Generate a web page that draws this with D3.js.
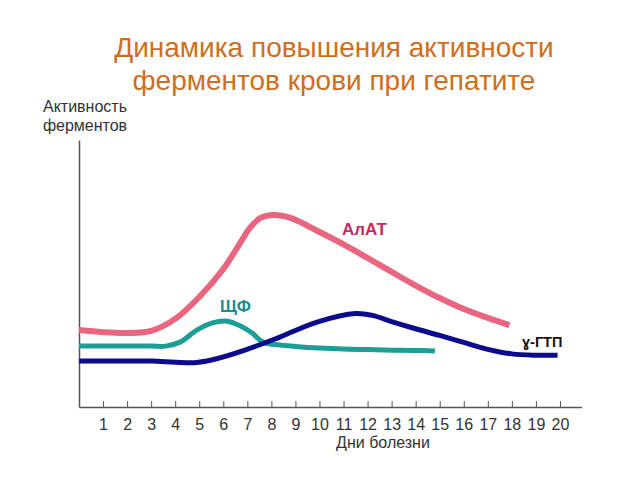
<!DOCTYPE html>
<html><head><meta charset="utf-8">
<script src="https://cdn.jsdelivr.net/npm/d3@7"></script>
<style>
body{margin:0;background:#fff;}
svg{display:block;font-family:"Liberation Sans",Arial,sans-serif;}
</style></head>
<body>
<svg id="chart" width="640" height="480"></svg>
<script>
const titleLines = ["Динамика повышения активности", "ферментов крови при гепатите"];
const yTitleLines = ["Активность", "ферментов"];
const xTitle = "Дни болезни";
const tickDays = [1,2,3,4,5,6,7,8,9,10,11,12,13,14,15,16,17,18,19,20];
const tickLabels = ["1","2","3","4","5","6","7","8","9","10","11","12","13","14","15","16","17","18","19","20"];

const seriesNames = ["АлАТ", "ЩФ", "ɣ-ГТП"];
const alatDays   = [0, 1, 2, 3, 4, 5, 6, 6.7, 7.1, 7.55, 8.1, 8.8, 9.9, 11, 12, 13, 14, 15, 16, 17, 17.9];
const alatValues = [28.8, 28, 27.7, 28.5, 33, 41.2, 51.7, 61.4, 67, 70.8, 71.9, 70.8, 66, 60.9, 55.8, 50.6, 45.5, 40.8, 36.7, 33.4, 30.7];
const shchfDays   = [0, 1, 2, 3, 3.6, 4.2, 4.9, 5.55, 6.1, 6.8, 7.2, 7.65, 8.35, 9, 10, 11, 12, 13, 14, 14.8];
const shchfValues = [22.8, 22.8, 22.8, 22.8, 22.8, 24.3, 28.8, 31.5, 32.2, 30, 27.7, 24.3, 23.2, 22.7, 22.1, 21.7, 21.5, 21.3, 21.2, 21];
const ggtpDays   = [0, 1, 2, 3, 4, 4.8, 5.6, 6.9, 8.35, 9.9, 11.5, 12.2, 13, 14, 15, 16, 17, 18, 19, 19.9];
const ggtpValues = [17.2, 17.2, 17.2, 17.2, 16.8, 16.6, 17.8, 21.3, 26.2, 31.8, 35, 34.3, 32, 29.3, 26.8, 24.2, 21.6, 19.9, 19.4, 19.4];

const svg = d3.select("#chart");
const x = d3.scaleLinear().domain([0, 20.9]).range([79, 581.6]);
const y = d3.scaleLinear().domain([0, 100]).range([407, 140]);

// title
svg.append("text").attr("text-anchor", "middle")
  .attr("font-size", 28).attr("fill", "#cf6e1e")
  .selectAll("tspan").data(titleLines).join("tspan")
  .attr("x", 334).attr("y", (d, i) => 57 + i * 32.5).text(d => d);

// y title
svg.append("text").attr("text-anchor", "middle").attr("font-size", 16).attr("fill", "#333")
  .selectAll("tspan").data(yTitleLines).join("tspan")
  .attr("x", 85).attr("y", (d, i) => 112 + i * 18.5).text(d => d);

// axes
const xAxis = d3.axisBottom(x).tickValues(tickDays).tickFormat((d, i) => tickLabels[i])
  .tickSizeInner(-6).tickSizeOuter(0).tickPadding(11.5);
const gx = svg.append("g").attr("transform", "translate(0,407)").call(xAxis);
gx.select(".domain").attr("stroke", "#555").attr("stroke-width", 1.5);
gx.selectAll(".tick line").attr("stroke", "#555").attr("stroke-width", 1);
gx.selectAll(".tick text").attr("font-size", 16).attr("fill", "#333").attr("font-family", "Liberation Sans, Arial, sans-serif");

const yAxis = d3.axisLeft(y).tickValues([]).tickSizeOuter(0);
const gy = svg.append("g").attr("transform", "translate(79,0)").call(yAxis);
gy.select(".domain").attr("stroke", "#555").attr("stroke-width", 1.5);

svg.append("text").attr("x", 383).attr("y", 448).attr("text-anchor", "middle")
  .attr("font-size", 16).attr("fill", "#333").text(xTitle);

// lines
const line = d3.line().x(d => x(d[0])).y(d => y(d[1])).curve(d3.curveCatmullRom.alpha(0.5));
const series = [
  {name: seriesNames[0], days: alatDays, values: alatValues, color: "#ea6680", width: 6},
  {name: seriesNames[1], days: shchfDays, values: shchfValues, color: "#1c9e96", width: 5},
  {name: seriesNames[2], days: ggtpDays, values: ggtpValues, color: "#0b0b8c", width: 5}
];
svg.append("g").selectAll("path").data(series).join("path")
  .attr("fill", "none").attr("stroke", d => d.color).attr("stroke-width", d => d.width)
  .attr("stroke-linejoin", "round")
  .attr("d", d => line(d.days.map((v, i) => [v, d.values[i]])));

// series labels
svg.append("text").attr("x", 342).attr("y", 235).attr("font-size", 17).attr("font-weight", "bold")
  .attr("fill", "#c72a63").text(seriesNames[0]);
svg.append("text").attr("x", 220).attr("y", 312).attr("font-size", 16.5).attr("font-weight", "bold")
  .attr("fill", "#1a8c8a").text(seriesNames[1]);
svg.append("text").attr("x", 522).attr("y", 347).attr("font-size", 14.5).attr("font-weight", "bold")
  .attr("fill", "#111").text(seriesNames[2]);
</script>
</body></html>
